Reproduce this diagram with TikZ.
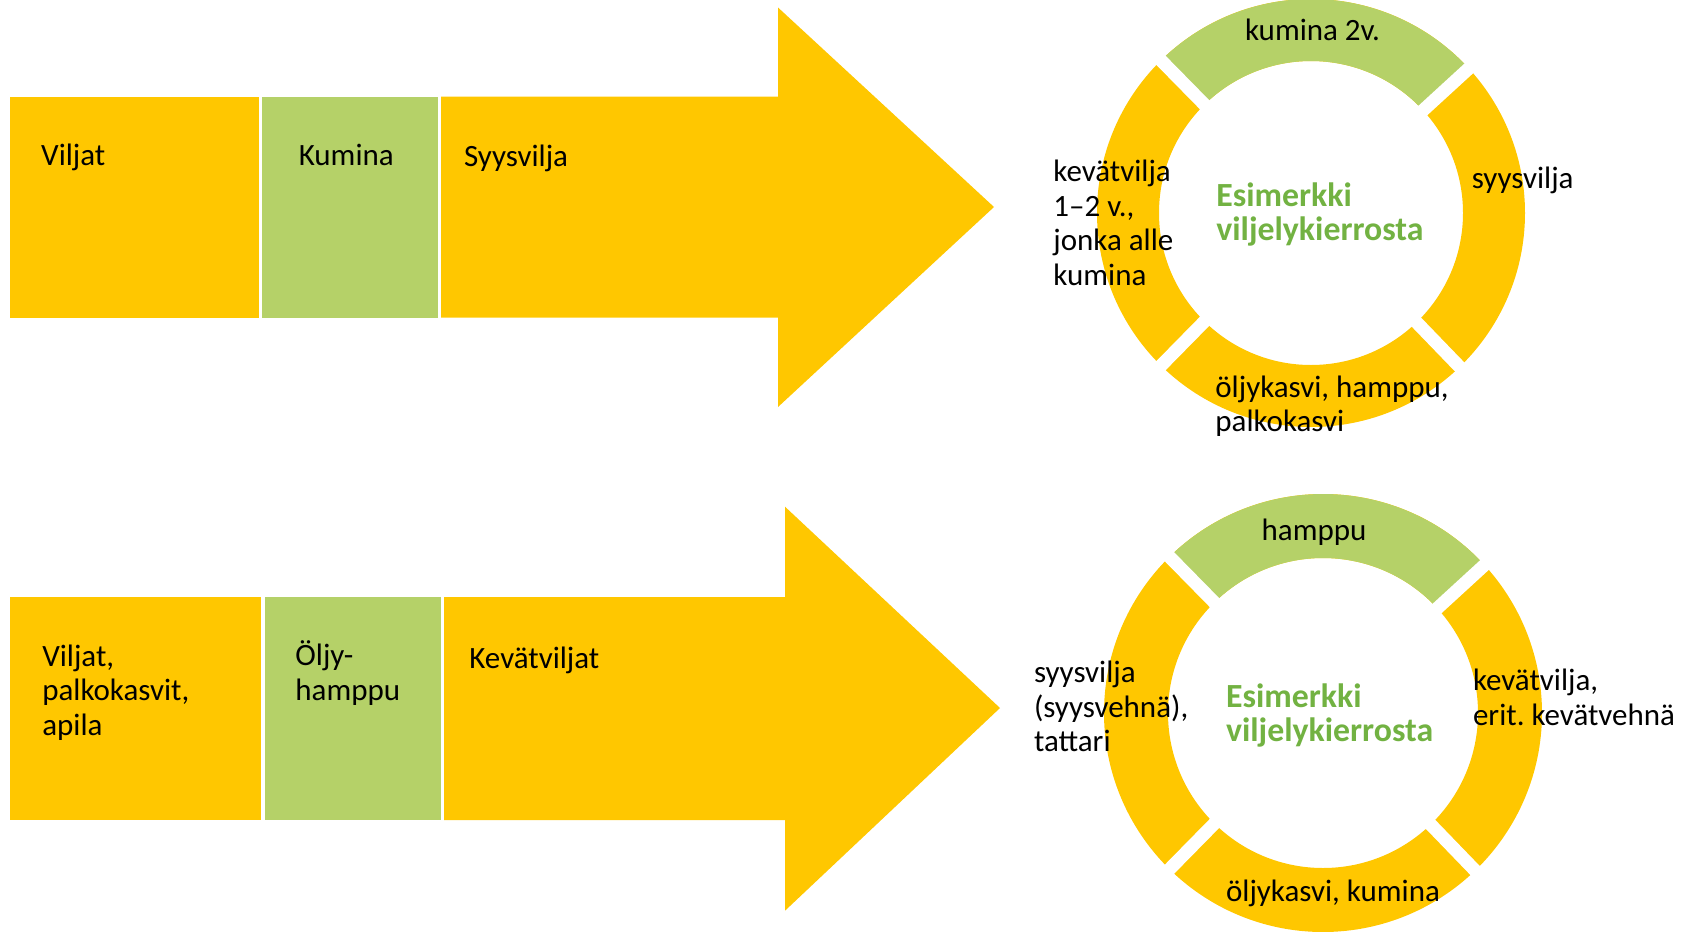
\documentclass[tikz,border=0pt]{standalone}
\usepackage{fontspec}
\setmainfont{Carlito}
\newlength{\du}
\setlength{\du}{0.5pt}
\definecolor{arrowgold}{RGB}{255,199,0}
\definecolor{leafgreen}{RGB}{181,209,104}
\definecolor{titlegreen}{RGB}{114,178,66}
\tikzset{
  boxtext/.style={anchor=base west, inner sep=0pt, align=left,
    font=\fontsize{15.5}{17.25}\selectfont},
  titletext/.style={boxtext, text=titlegreen,
    font=\bfseries\fontsize{16.9}{17}\selectfont},
  gapline/.style={white, line width=13\du},
}

\begin{document}
\begin{tikzpicture}
\pgftransformxscale{1.000000}
\pgftransformyscale{-1.000000}
\useasboundingbox (0\du,0\du) rectangle (1683\du,932\du);
% upper arrow
\fill[arrowgold] (9.7\du,96.7\du)--(9.7\du,317.7\du)--(258.5\du,317.7\du)--(258.5\du,96.7\du)--cycle;
\fill[leafgreen] (262\du,96.7\du)--(262\du,317.7\du)--(437.5\du,317.7\du)--(437.5\du,96.7\du)--cycle;
\fill[arrowgold] (441\du,96.7\du)--(778\du,96.7\du)--(778\du,7.5\du)--(994\du,207\du)--(778\du,407\du)--(778\du,317.7\du)--(441\du,317.7\du)--cycle;
% (multi-line nodes sit on the baseline of their last line)
\node[boxtext] (viljat1) at (40.8\du,165\du) {Viljat};
\node[boxtext] (kumina1) at (298.4\du,165\du) {Kumina};
\node[boxtext] (syysvilja1) at (463.7\du,166.7\du) {Syysvilja};
% upper ring
\begin{scope}[shift={(1311\du,213\du)}]
\fill[arrowgold, even odd rule] (0,0) circle (214\du) (0,0) circle (152\du);
\fill[leafgreen] (-134.5:214\du) arc[start angle=-134.5, end angle=-42.5, radius=214\du]
  -- (-42.5:152\du) arc[start angle=-42.5, end angle=-134.5, radius=152\du] -- cycle;
\foreach \a in {-42.5,-134.5,134.5,46}
  \draw[gapline] (\a:147\du) -- (\a:219\du);
\end{scope}
\node[boxtext, anchor=base] (kumina2v) at (1312.5\du,40.7\du) {kumina 2v.};
\node[boxtext] (kevatvilja1) at (1053\du,285\du) {kevätvilja\\1–2 v.,\\jonka alle\\kumina};
\node[boxtext] (syysvilja2) at (1471.5\du,188\du) {syysvilja};
\node[titletext] (esimerkki1) at (1216\du,240\du) {Esimerkki\\viljelykierrosta};
\node[boxtext] (oljykasvi1) at (1215\du,431.7\du) {öljykasvi, hamppu,\\palkokasvi};
% lower arrow
\fill[arrowgold] (9.7\du,597\du)--(9.7\du,820\du)--(261\du,820\du)--(261\du,597\du)--cycle;
\fill[leafgreen] (264.5\du,597\du)--(264.5\du,820\du)--(440.5\du,820\du)--(440.5\du,597\du)--cycle;
\fill[arrowgold] (444\du,597\du)--(785\du,597\du)--(785\du,506.7\du)--(1000\du,708\du)--(785\du,910.7\du)--(785\du,820\du)--(444\du,820\du)--cycle;
\node[boxtext] (viljat2) at (41.9\du,735\du) {Viljat,\\palkokasvit,\\apila};
\node[boxtext] (oljy2) at (295\du,700\du) {Öljy-\\hamppu};
\node[boxtext] (kevatviljat2) at (469\du,668\du) {Kevätviljat};
% lower ring
\begin{scope}[shift={(1323\du,713\du)}]
\fill[arrowgold, even odd rule] (0,0) circle (219\du) (0,0) circle (155\du);
\fill[leafgreen] (-134.5:219\du) arc[start angle=-134.5, end angle=-42.5, radius=219\du]
  -- (-42.5:155\du) arc[start angle=-42.5, end angle=-134.5, radius=155\du] -- cycle;
\foreach \a in {-42.5,-134.5,134.5,46}
  \draw[gapline] (\a:150\du) -- (\a:224\du);
\end{scope}
\node[boxtext, anchor=base] (hamppu2) at (1314\du,540\du) {hamppu};
\node[boxtext] (syysvilja3) at (1033.6\du,751.7\du) {syysvilja\\(syysvehnä),\\tattari};
\node[titletext] (esimerkki2) at (1225.7\du,741.7\du) {Esimerkki\\viljelykierrosta};
\node[boxtext] (kevatvilja2) at (1472.6\du,725\du) {kevätvilja,\\erit.\ kevätvehnä};
\node[boxtext] (oljykasvi2) at (1225.7\du,901.7\du) {öljykasvi, kumina};
\end{tikzpicture}
\end{document}
